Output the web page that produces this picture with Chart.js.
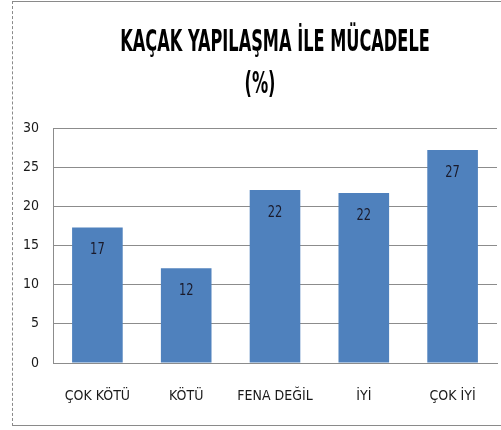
<!DOCTYPE html>
<html>
<head>
<meta charset="utf-8">
<script src="https://cdn.jsdelivr.net/npm/chart.js@4.4.1/dist/chart.umd.min.js"></script>
<style>
  html, body { margin: 0; padding: 0; background: #fff; }
  #wrap { position: relative; width: 501px; height: 430px; }
  #frame {
    position: absolute; left: 12px; top: 1px; width: 500px; height: 425px;
    border: 1px solid #8a8a8a; border-left: 1px dashed #8a8a8a; box-sizing: border-box;
  }
  canvas { position: absolute; left: 0; top: 0; }
</style>
</head>
<body>
<div id="wrap">
  <div id="frame"></div>
  <canvas id="chart" width="501" height="430"></canvas>
</div>
<script>
// chart data
const categories = ["ÇOK KÖTÜ", "KÖTÜ", "FENA DEĞİL", "İYİ", "ÇOK İYİ"];
const values = [17.3, 12.1, 22.1, 21.7, 27.2];
const valueLabels = ["17", "12", "22", "22", "27"];
const yTicks = [0, 5, 10, 15, 20, 25, 30];
const titleLines = ["KAÇAK YAPILAŞMA İLE MÜCADELE", "(%)"];

const FONT = "'DejaVu Sans Condensed', 'Liberation Sans', sans-serif";

// title drawn narrow (the original uses a condensed face)
const narrowTitle = {
  id: "narrowTitle",
  afterDraw(chart) {
    const ctx = chart.ctx;
    ctx.save();
    ctx.font = "bold 30px " + FONT;
    ctx.fillStyle = "#000";
    ctx.textAlign = "center";
    ctx.textBaseline = "middle";
    [[275, 43], [260, 85]].forEach(([x, y], i) => {
      ctx.save();
      ctx.translate(x, y);
      ctx.scale(0.6, 1);
      ctx.fillText(titleLines[i], 0, 0);
      ctx.restore();
    });
    ctx.restore();
  },
};

// draws the value inside each bar, near its top
const barLabels = {
  id: "barLabels",
  afterDatasetsDraw(chart) {
    const ctx = chart.ctx;
    const meta = chart.getDatasetMeta(0);
    ctx.save();
    ctx.font = "15px " + FONT;
    ctx.fillStyle = "#1a1a2a";
    ctx.textAlign = "center";
    ctx.textBaseline = "middle";
    meta.data.forEach((bar, i) => {
      ctx.save();
      ctx.translate(bar.x, bar.y + 23);
      ctx.scale(0.85, 1);
      ctx.fillText(valueLabels[i], 0, 0);
      ctx.restore();
    });
    ctx.restore();
  },
};

new Chart(document.getElementById("chart"), {
  type: "bar",
  data: {
    labels: categories,
    datasets: [{
      data: values,
      backgroundColor: "#4F81BD",
      borderWidth: 0,
      categoryPercentage: 1,
      barPercentage: 0.57,
    }],
  },
  options: {
    responsive: false,
    animation: false,
    layout: { padding: { left: 12, right: 4, top: 128, bottom: 0 } },
    plugins: {
      legend: { display: false },
      tooltip: { enabled: false },
      title: { display: false },
    },
    scales: {
      y: {
        min: 0, max: 30,
        afterBuildTicks: (scale) => { scale.ticks = yTicks.map((v) => ({ value: v })); },
        afterFit: (scale) => { scale.width = 41; },
        ticks: { color: "#1a1a1a", font: { family: FONT, size: 14 }, padding: 14 },
        grid: { color: "#8c8c8c", drawTicks: false },
        border: { color: "#8c8c8c" },
      },
      x: {
        afterFit: (scale) => { scale.height = 67; },
        ticks: { color: "#1a1a1a", font: { family: FONT, size: 14 }, padding: 17, maxRotation: 0 },
        grid: { display: false },
        border: { color: "#8c8c8c" },
      },
    },
  },
  plugins: [narrowTitle, barLabels],
});
</script>
</body>
</html>
